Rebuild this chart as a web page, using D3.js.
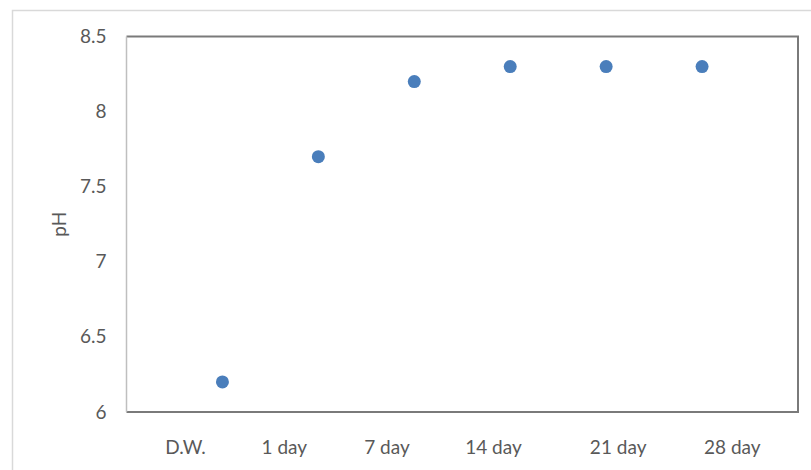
<!DOCTYPE html>
<html>
<head>
<meta charset="utf-8">
<script src="https://cdn.jsdelivr.net/npm/d3@7"></script>
<style>
	body { margin: 0; background: #fff; }
	text { font-family: Lato, "Open Sans", sans-serif; fill: #595959; }
</style>
</head>
<body>
<svg id="chart"></svg>
<script>
// pH over time
const categories = ['D.W.', '1 day', '7 day', '14 day', '21 day', '28 day'];
const pointX = [1, 2, 3, 4, 5, 6];
const phValues = [6.2, 7.7, 8.2, 8.3, 8.3, 8.3];
// where the category labels sit on the x scale (they are not evenly spaced in the original)
const labelX = [0.61, 1.64, 2.71, 3.82, 5.12, 6.31];
const yTicks = [6, 6.5, 7, 7.5, 8, 8.5];

const width = 811, height = 470;
const plotLeft = 126.5, plotRight = 798, plotTop = 36.5, plotBottom = 412;

const svg = d3.select('#chart').attr('width', width).attr('height', height);

// outer chart border
svg.append('rect')
	.attr('x', 12.5).attr('y', 10.5)
	.attr('width', width).attr('height', height)
	.attr('fill', 'none').attr('stroke', '#d9d9d9').attr('stroke-width', 1.5);

const x = d3.scaleLinear().domain([0, 7]).range([plotLeft, plotRight]);
const y = d3.scaleLinear().domain([6, 8.5]).range([plotBottom, plotTop]);

// plot frame
svg.append('path')
	.attr('d', `M${plotLeft},${plotTop}H${plotRight}V${plotBottom}H${plotLeft}`)
	.attr('fill', 'none').attr('stroke', '#7a7a7a').attr('stroke-width', 2);
svg.append('line')
	.attr('x1', plotLeft).attr('x2', plotLeft).attr('y1', plotTop).attr('y2', plotBottom)
	.attr('stroke', '#bfbfbf').attr('stroke-width', 1.5);

const yAxis = svg.append('g')
	.attr('transform', `translate(${plotLeft},0)`)
	.call(d3.axisLeft(y).tickValues(yTicks).tickSize(0).tickPadding(20).tickFormat(d3.format('')));
yAxis.select('.domain').remove();
yAxis.selectAll('text').style('font-size', '19px').attr('fill', '#595959');

const xAxis = svg.append('g')
	.attr('transform', `translate(0,${plotBottom})`)
	.call(d3.axisBottom(x).tickValues(labelX).tickSize(0).tickPadding(29)
		.tickFormat((d, i) => categories[i]));
xAxis.select('.domain').remove();
xAxis.selectAll('text').style('font-size', '19px').attr('fill', '#595959');

svg.append('text')
	.attr('transform', `translate(66,${(plotTop + plotBottom) / 2}) rotate(-90)`)
	.attr('text-anchor', 'middle')
	.style('font-size', '19px')
	.text('pH');

svg.selectAll('circle.pt').data(phValues).enter()
	.append('circle')
	.attr('class', 'pt')
	.attr('cx', (d, i) => x(pointX[i]))
	.attr('cy', d => y(d))
	.attr('r', 6.5)
	.attr('fill', '#4a7ebb');
</script>
</body>
</html>
